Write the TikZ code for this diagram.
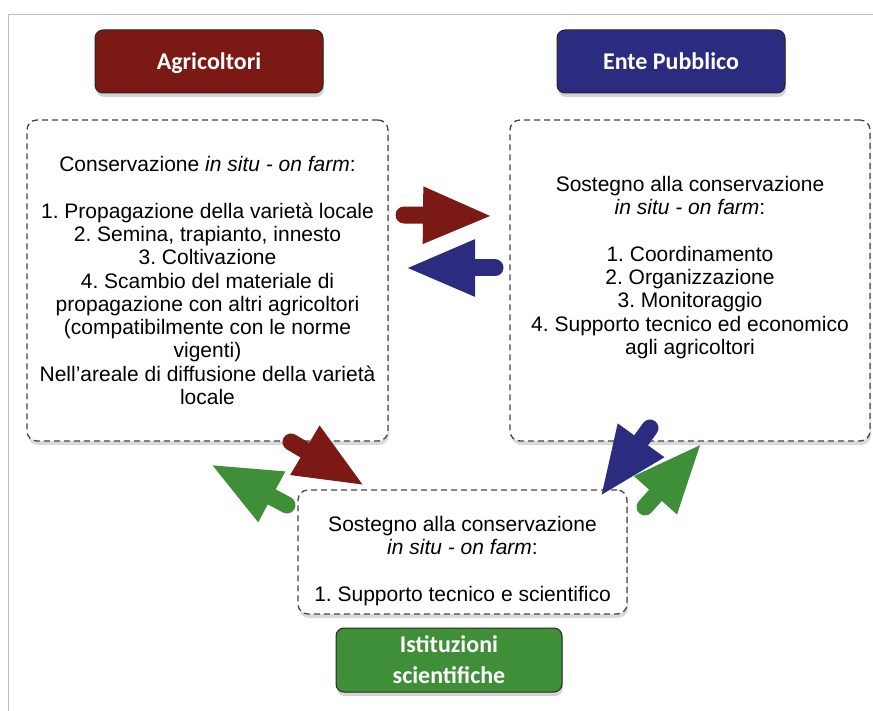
\documentclass[tikz,border=0pt]{standalone}
\usepackage{fontspec}
\setmainfont{Liberation Sans}
\newfontfamily\titlefont{Carlito}
\usetikzlibrary{arrows.meta,shadows}
\definecolor{agrired}{HTML}{7B1A14}
\definecolor{enteblue}{HTML}{2B2C80}
\definecolor{istgreen}{HTML}{3F8E38}
\definecolor{framegray}{HTML}{BDBDBD}
\definecolor{dashgray}{HTML}{454545}
\frenchspacing

\begin{document}
\begin{tikzpicture}[x=1pt,y=-1pt,
    titlebox/.style={draw=black!85, line width=1pt, rounded corners=8pt, text=white, align=center,
        font=\titlefont\bfseries\fontsize{24}{31}\selectfont, minimum width=228pt, minimum height=63pt,
        text height=20pt, text depth=3pt,
        drop shadow={shadow xshift=1pt, shadow yshift=-4pt, opacity=0.35}},
    infobox/.style={draw=dashgray, dash pattern=on 6pt off 4pt, line width=1.3pt, fill=white,
        rounded corners=10pt, align=center, font=\fontsize{21}{23.3}\selectfont,
        drop shadow={shadow xshift=1pt, shadow yshift=-4pt, opacity=0.3}},
    fatarrow/.style={line width=17pt, line cap=round, -{Triangle[length=70pt,width=52pt]}}]

        \useasboundingbox (0,0) rectangle (873,711);
        \draw[framegray, line width=1pt] (8,711) -- (8,15) -- (873,15);

        % Nodes
        \node (agricoltori) [titlebox, fill=agrired] at (209,61.5) {Agricoltori};
        \node (ente) [titlebox, fill=enteblue] at (671,61.5) {Ente Pubblico};
        \node (conservazione) [infobox, minimum width=361pt, minimum height=321pt] at (207.5,280.5)
            {Conservazione \textit{in situ - on farm}:\\ \\
             1. Propagazione della varietà locale\\
             2. Semina, trapianto, innesto\\
             3. Coltivazione\\
             4. Scambio del materiale di\\
             propagazione con altri agricoltori\\
             (compatibilmente con le norme\\
             vigenti)\\
             Nell'areale di diffusione della varietà\\
             locale};
        \node (sostegno) [infobox, minimum width=360pt, minimum height=321pt] at (690,280.5)
            {Sostegno alla conservazione\\
             \textit{in situ - on farm}:\\ \\
             1. Coordinamento\\
             2. Organizzazione\\
             3. Monitoraggio\\
             4. Supporto tecnico ed economico\\
             agli agricoltori\\ \strut};
        \node (supporto) [infobox, minimum width=329pt, minimum height=124pt] at (462.5,552)
            {\rule{0pt}{33pt}Sostegno alla conservazione\\
             \textit{in situ - on farm}:\\ \\
             1. Supporto tecnico e scientifico};
        \node (istituzioni) [titlebox, fill=istgreen, minimum width=226pt, minimum height=64pt,
            text height=, text depth=] at (449,660) {Istituzioni\\scientifiche};

        % Arrows
        \coordinate (rA) at (404,215);  \coordinate (rB) at (493,216);
        \coordinate (bA) at (495,268);  \coordinate (bB) at (405,268);
        \coordinate (rC) at (291,442);  \coordinate (rD) at (365,486);
        \coordinate (gA) at (287,505);  \coordinate (gB) at (210,464);
        \coordinate (bC) at (650,428);  \coordinate (bD) at (600,497);
        \coordinate (gC) at (645,507);  \coordinate (gD) at (702,443);
        \foreach \c/\i/\j in {agrired/rA/rB, enteblue/bA/bB, agrired/rC/rD, istgreen/gA/gB, enteblue/bC/bD, istgreen/gC/gD} {
            \draw[fatarrow, \c] (\i) -- (\j);
        }

    \end{tikzpicture}
\end{document}
